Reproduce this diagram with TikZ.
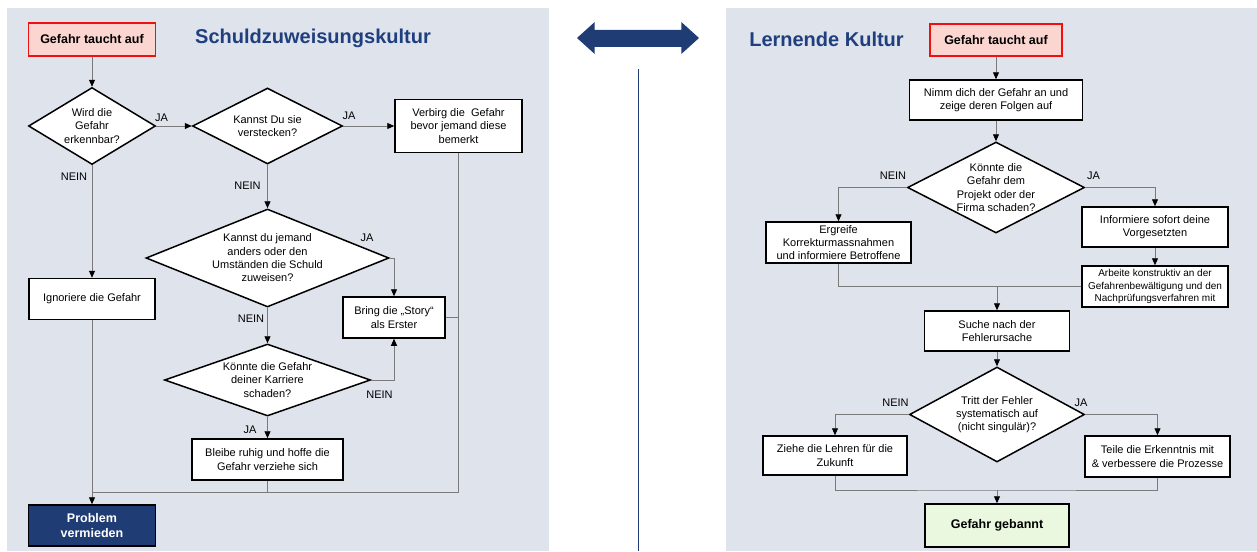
\documentclass[tikz,border=0pt]{standalone}
\usepackage{fontspec}
\setmainfont{Liberation Sans}
\usetikzlibrary{shapes.geometric,arrows.meta}
\definecolor{panelbg}{HTML}{DFE3EC}
\definecolor{titleblue}{HTML}{1F3F7F}
\definecolor{navy}{HTML}{1F3C74}
\definecolor{pinkfill}{HTML}{FBD5D0}
\definecolor{greenfill}{HTML}{EAF8DF}
\definecolor{linegray}{HTML}{7A7A7A}
\definecolor{startred}{HTML}{F01010}
\begin{document}
\begin{tikzpicture}[x=1pt,y=-1pt,
  every node/.style={font=\fontsize{11}{13.3}\selectfont, align=center, inner sep=0pt},
  box/.style={draw=black, line width=1.5pt, fill=white, rectangle},
  startbox/.style={draw=startred, line width=1.3pt, fill=pinkfill, font=\bfseries\fontsize{12.5}{15}\selectfont},
  dia/.style={draw=black, line width=1.5pt, fill=white, diamond},
  conn/.style={draw=linegray, line width=0.9pt},
  arr/.style={conn, -{Triangle[length=7pt,width=6pt,color=black]}},
  lbl/.style={font=\fontsize{11}{13}\selectfont},
  ttl/.style={font=\bfseries\fontsize{20}{24}\selectfont, text=titleblue},
]
\path[use as bounding box, fill=white] (0,0) rectangle (1257,551);
% panels
\fill[panelbg] (6.5,8.5) rectangle (549,551);
\fill[panelbg] (726,8.5) rectangle (1257,551);
% middle double arrow and separator
\fill[navy] (577,38) -- (594.7,22) -- (594.7,30) -- (681.3,30) -- (681.3,22) -- (699,38)
  -- (681.3,54) -- (681.3,47) -- (594.7,47) -- (594.7,54) -- cycle;
\draw[navy, line width=1pt] (638,69) -- (638,551);

% ---------------- left ----------------
\node[ttl] (titleL) at (313,38.5) {Schuldzuweisungskultur};
\node[startbox, minimum width=127pt, minimum height=33pt] (startL) at (92,39.5) {Gefahr taucht auf};
\node[dia, minimum width=127pt, minimum height=77pt, shape aspect=1.65] (d1) at (92,126) {Wird die\\Gefahr\\erkennbar?};
\node[dia, minimum width=150pt, minimum height=76pt, shape aspect=1.97] (d2) at (267.5,126) {Kannst Du sie\\verstecken?};
\node[box, minimum width=127pt, minimum height=53pt] (verbirg) at (458.5,126) {Verbirg die\ \ Gefahr\\bevor jemand diese\\bemerkt};
\node[box, minimum width=126pt, minimum height=41pt] (ignoriere) at (92,299) {Ignoriere die Gefahr};
\node[dia, minimum width=243pt, minimum height=98pt, shape aspect=2.48] (d3) at (267.5,258) {Kannst du jemand\\anders oder den\\Umständen die Schuld\\zuweisen?};
\node[box, minimum width=102pt, minimum height=41pt] (story) at (394,317.5) {Bring die „Story“\\als Erster};
\node[dia, minimum width=206pt, minimum height=72pt, shape aspect=2.86] (d4) at (267.5,380) {Könnte die Gefahr\\deiner Karriere\\schaden?};
\node[box, minimum width=151pt, minimum height=41pt] (bleibe) at (267.5,459.5) {Bleibe ruhig und hoffe die\\Gefahr verziehe sich};
\node[box, fill=navy, text=white, font=\bfseries\fontsize{12.5}{15}\selectfont, minimum width=127pt, minimum height=41pt] (problem) at (92,525.5) {Problem\\vermieden};
\coordinate (mL) at (92,492);

\draw[arr] (startL.south) -- (d1.north);
\draw[arr] (d1.east) -- (d2.west);
\draw[arr] (d2.east) -- (verbirg.west);
\draw[arr] (d1.south) -- (ignoriere.north);
\draw[arr] (d2.south) -- (d3.north);
\draw[arr] (d3.east) -| (story.north);
\draw[arr] (d3.south) -- (d4.north);
\draw[arr] (d4.east) -| (story.south);
\draw[arr] (d4.south) -- (bleibe.north);
\draw[conn] (verbirg.south) |- (mL);
\draw[conn] (story.east) -- (story.east -| verbirg.south);
\draw[conn] (bleibe.south) -- (bleibe.south |- mL);
\draw[arr] (ignoriere.south) -- (problem.north);

\node[lbl] (ja1) at (161.5,118) {JA};
\node[lbl] (ja2) at (349,116) {JA};
\node[lbl] (nein1) at (74,177) {NEIN};
\node[lbl] (nein2) at (247.5,186) {NEIN};
\node[lbl] (ja3) at (367,238) {JA};
\node[lbl] (nein3) at (251,319) {NEIN};
\node[lbl] (nein4) at (379.5,395) {NEIN};
\node[lbl] (ja4) at (250,430) {JA};

% ---------------- right ----------------
\node[ttl] (titleR) at (826.5,39) {Lernende Kultur};
\node[startbox, minimum width=132pt, minimum height=32pt] (startR) at (996,40) {Gefahr taucht auf};
\node[box, minimum width=173pt, minimum height=40pt] (nimm) at (996,100) {Nimm dich der Gefahr an und\\zeige deren Folgen auf};
\node[dia, minimum width=177pt, minimum height=91pt, shape aspect=1.95] (r1) at (996,187.5) {Könnte die\\Gefahr dem\\Projekt oder der\\Firma schaden?};
\node[box, minimum width=145pt, minimum height=41pt] (ergreife) at (838.5,242.5) {Ergreife\\Korrekturmassnahmen\\und informiere Betroffene};
\node[box, minimum width=146pt, minimum height=40pt] (informiere) at (1155,227) {Informiere sofort deine\\Vorgesetzten};
\node[box, minimum width=146pt, minimum height=41pt, font=\fontsize{10}{12.5}\selectfont] (arbeite) at (1155,286.5) {Arbeite konstruktiv an der\\Gefahrenbewältigung und den\\Nachprüfungsverfahren mit};
\node[box, minimum width=145pt, minimum height=40pt] (suche) at (997,331) {Suche nach der\\Fehlerursache};
\node[dia, minimum width=175pt, minimum height=95pt, shape aspect=1.84] (r2) at (997,414.5) {Tritt der Fehler\\systematisch auf\\(nicht singulär)?};
\node[box, minimum width=144pt, minimum height=39pt] (ziehe) at (835,455.5) {Ziehe die Lehren für die\\Zukunft};
\node[box, minimum width=145pt, minimum height=41pt] (teile) at (1157.5,456.5) {Teile die Erkenntnis mit\\\& verbessere die Prozesse};
\node[box, fill=greenfill, font=\bfseries\fontsize{12.5}{15}\selectfont, minimum width=144pt, minimum height=43pt] (gebannt) at (997,525.5) {Gefahr gebannt};
\coordinate (mR1) at (suche.north |- arbeite.west);
\coordinate (mR2) at (997,490);

\draw[arr] (startR.south) -- (nimm.north);
\draw[arr] (nimm.south) -- (r1.north);
\draw[arr] (r1.west) -| (ergreife.north);
\draw[arr] (r1.east) -| (informiere.north);
\draw[arr] (informiere.south) -- (arbeite.north);
\draw[conn] (ergreife.south) |- (arbeite.west);
\draw[arr] (mR1) -- (suche.north);
\draw[arr] (suche.south) -- (r2.north);
\draw[arr] (r2.west) -| (ziehe.north);
\draw[arr] (r2.east) -| (teile.north);
\draw[conn] (ziehe.south) |- (mR2) -| (teile.south);
\draw[arr] (mR2) -- (gebannt.north);

\node[lbl] (neinR1) at (893,176) {NEIN};
\node[lbl] (jaR1) at (1093.5,176) {JA};
\node[lbl] (neinR2) at (895.5,403) {NEIN};
\node[lbl] (jaR2) at (1081,403) {JA};
\end{tikzpicture}
\end{document}
